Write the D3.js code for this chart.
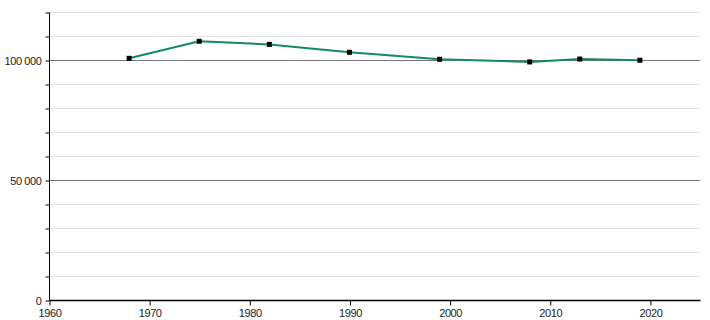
<!DOCTYPE html>
<html lang="en">
<head>
<meta charset="utf-8">
<title>Population</title>
<script src="https://cdn.jsdelivr.net/npm/d3@7"></script>
<style>
  body { margin: 0; background: #fff; }
  svg text { font-family: "Liberation Sans", Arial, sans-serif; font-size: 11px; letter-spacing: -0.4px; fill: #222; }
</style>
</head>
<body>
<script>
// data
var years = [1968, 1975, 1982, 1990, 1999, 2008, 2013, 2019];
var population = [100700, 107800, 106500, 103200, 100300, 99200, 100400, 99900];
var xTicks = [1960, 1970, 1980, 1990, 2000, 2010, 2020];
var yMajor = [0, 50000, 100000];

var w = 710, h = 320;
var padL = 49, padR = 700, padT = 12, padB = 300;

var svg = d3.select("body").append("svg")
  .attr("width", w)
  .attr("height", h);

var x = d3.scaleLinear().domain([1960, 2025]).range([padL, padR]);
var y = d3.scaleLinear().domain([0, 120000]).range([padB, padT]);

var fmt = function(d) { return d3.format(",")(d).replace(/,/g, " "); };

// light grid every 10 000
var minor = d3.range(10000, 120001, 10000).filter(function(d) { return d % 50000 != 0; });
svg.append("g").selectAll("line")
  .data(minor)
  .enter().append("line")
  .attr("x1", padL).attr("x2", padR)
  .attr("y1", function(d) { return y(d) + 0.5; })
  .attr("y2", function(d) { return y(d) + 0.5; })
  .attr("stroke", "#e6e6e6")
  .attr("stroke-width", 1);

// darker lines at 50 000 and 100 000
svg.append("g").selectAll("line")
  .data(yMajor.filter(function(d) { return d > 0; }))
  .enter().append("line")
  .attr("x1", padL).attr("x2", padR)
  .attr("y1", function(d) { return y(d) + 0.5; })
  .attr("y2", function(d) { return y(d) + 0.5; })
  .attr("stroke", "#777")
  .attr("stroke-width", 1);

// y axis
var yAxis = d3.axisLeft(y)
  .tickValues(d3.range(0, 120001, 10000))
  .tickSize(4)
  .tickFormat(function(d) { return yMajor.indexOf(d) >= 0 ? fmt(d) : ""; });
var gy = svg.append("g")
  .attr("transform", "translate(" + (padL + 0.5) + ",0.5)")
  .call(yAxis);
gy.select(".domain").attr("stroke", "#000").attr("d", "M0," + padT + "V" + padB);
gy.selectAll(".tick line").attr("stroke", "#000");
gy.selectAll(".tick text").attr("x", -8).attr("dy", "0.35em");

// x axis
var xAxis = d3.axisBottom(x)
  .tickValues(xTicks)
  .tickSize(5)
  .tickFormat(d3.format("d"));
var gx = svg.append("g")
  .attr("transform", "translate(0.5," + (padB + 0.5) + ")")
  .call(xAxis);
gx.select(".domain").attr("stroke", "#000").attr("stroke-width", 1.5).attr("d", "M" + padL + ",0H" + padR);
gx.selectAll(".tick line").attr("stroke", "#000");
gx.selectAll(".tick text").attr("y", 9);

// series line
var line = d3.line()
  .x(function(d, i) { return x(years[i]); })
  .y(function(d) { return y(d); });

svg.append("path")
  .datum(population)
  .attr("d", line)
  .attr("fill", "none")
  .attr("stroke", "#13896a")
  .attr("stroke-width", 2);

// markers
svg.append("g").selectAll("rect")
  .data(population)
  .enter().append("rect")
  .attr("x", function(d, i) { return x(years[i]) - 2.5; })
  .attr("y", function(d) { return y(d) - 2.5; })
  .attr("width", 5)
  .attr("height", 5)
  .attr("fill", "#000");
</script>
</body>
</html>
